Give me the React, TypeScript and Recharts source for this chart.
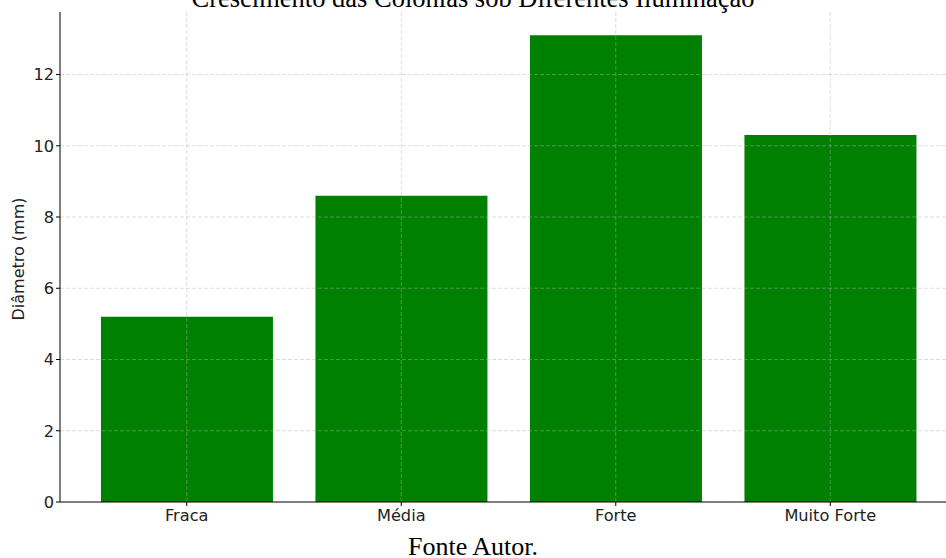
import React from 'react';
import { BarChart, Bar, XAxis, YAxis, ReferenceLine } from 'recharts';

const categories = ['Fraca', 'Média', 'Forte', 'Muito Forte'];
const diametros = [5.2, 8.6, 13.1, 10.3];
const yTicks = [0, 2, 4, 6, 8, 10, 12];
const titleText = 'Crescimento das Colônias sob Diferentes Iluminação';
const captionText = 'Fonte Autor.';
const yLabel = 'Diâmetro (mm)';

const data = categories.map((c, i) => ({ name: c, value: diametros[i] }));

const sans = 'DejaVu Sans, sans-serif';
const serif = 'Liberation Serif, Times New Roman, serif';
const gridStroke = '#b0b0b0';

export default function App() {
  return (
    <div style={{ position: 'absolute', left: 0, top: 0, width: 946, height: 558, overflow: 'hidden', background: '#fff' }}>
      <BarChart
        width={957}
        height={558}
        data={data}
        margin={{ top: 12, right: 0, bottom: 0, left: 0 }}
        barCategoryGap="10%"
      >
        <XAxis
          dataKey="name"
          height={56}
          padding={{ left: 19.5, right: 19.5 }}
          tickSize={4}
          tickMargin={3}
          stroke="#000"
          tick={{ fill: '#222', fontSize: 16.2, fontFamily: sans }}
          axisLine={{ stroke: '#000', strokeWidth: 1 }}
          tickLine={{ stroke: '#000' }}
        />
        <YAxis
          width={60}
          domain={[0, 13.755]}
          ticks={yTicks}
          allowDataOverflow
          tickSize={4}
          tickMargin={2}
          stroke="#000"
          tick={{ fill: '#222', fontSize: 16.2, fontFamily: sans }}
          axisLine={{ stroke: '#000', strokeWidth: 1 }}
          tickLine={{ stroke: '#000' }}
          label={{
            content: (props: any) => {
              const vb = props.viewBox || { x: 0, y: 12, width: 60, height: 490 };
              const cx = vb.x + 24;
              const cy = vb.y + vb.height / 2 + 2;
              return (
                <text
                  x={cx}
                  y={cy}
                  transform={`rotate(-90, ${cx}, ${cy})`}
                  textAnchor="middle"
                  fontSize={16}
                  fontFamily={sans}
                  fill="#222"
                >
                  {yLabel}
                </text>
              );
            },
          }}
        />
        <Bar dataKey="value" fill="#008000" isAnimationActive={false} />
        {yTicks.filter((t) => t > 0).map((t) => (
          <ReferenceLine
            key={'h' + t}
            y={t}
            stroke={gridStroke}
            strokeOpacity={0.55}
            strokeDasharray="4 2"
            strokeWidth={0.8}
          />
        ))}
        {categories.map((c) => (
          <ReferenceLine
            key={'v' + c}
            x={c}
            stroke={gridStroke}
            strokeOpacity={0.55}
            strokeDasharray="4 2"
            strokeWidth={0.8}
          />
        ))}
      </BarChart>
      <svg width={946} height={558} style={{ position: 'absolute', left: 0, top: 0, pointerEvents: 'none' }}>
        <text x={473} y={7} textAnchor="middle" fontFamily={serif} fontSize={26.5} fill="#000">
          {titleText}
        </text>
        <text x={473} y={555} textAnchor="middle" fontFamily={serif} fontSize={26} fill="#000">
          {captionText}
        </text>
      </svg>
    </div>
  );
}
